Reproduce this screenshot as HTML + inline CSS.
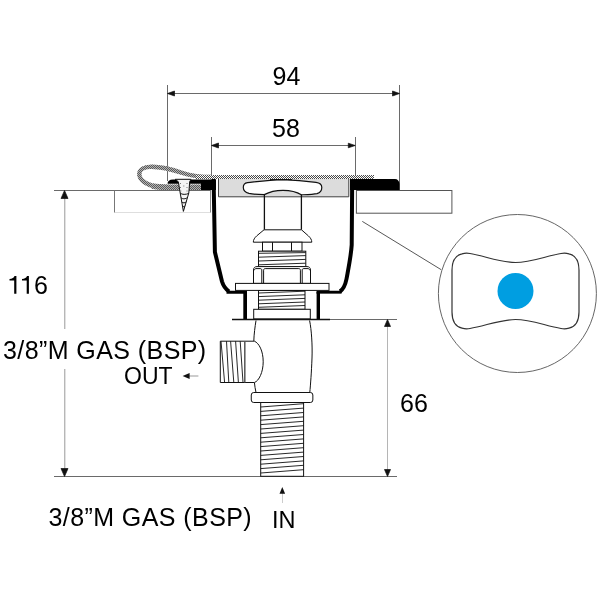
<!DOCTYPE html>
<html><head><meta charset="utf-8">
<style>
html,body{margin:0;padding:0;background:#fff;width:600px;height:600px;overflow:hidden}
svg{display:block;will-change:transform}
text{font-family:"Liberation Sans",sans-serif;fill:#000}
</style></head>
<body>
<svg width="600" height="600" viewBox="0 0 600 600">
<defs>
<pattern id="dots" width="2" height="2" patternUnits="userSpaceOnUse">
<rect width="2" height="2" fill="#fff"/><rect width="1" height="1" fill="#4a4a4a"/><rect x="1" y="1" width="1" height="1" fill="#4a4a4a"/>
</pattern>
<pattern id="dk" width="2" height="2" patternUnits="userSpaceOnUse"><rect width="1" height="1" fill="#5a5a5a"/><rect x="1" y="1" width="1" height="1" fill="#5a5a5a"/></pattern>
</defs>

<!-- ===== Dimension 94 ===== -->
<g stroke="#6a6a6a" stroke-width="1" fill="none">
<line x1="167.5" y1="85" x2="167.5" y2="181"/>
<line x1="399.5" y1="85" x2="399.5" y2="190"/>
<line x1="168" y1="93.5" x2="399" y2="93.5"/>
<line x1="211.5" y1="137" x2="211.5" y2="176"/>
<line x1="355.5" y1="137" x2="355.5" y2="176"/>
<line x1="212" y1="145.5" x2="355.3" y2="145.5"/>
</g>
<g fill="#111" stroke="#111" stroke-width="0.7" stroke-linejoin="round">
<path d="M167.5,93.5 L174.5,91 L174.5,96 Z"/>
<path d="M399.5,93.5 L392.5,91 L392.5,96 Z"/>
<path d="M211.5,145.5 L218.5,143 L218.5,148 Z"/>
<path d="M355.2,145.5 L348.3,143.2 L348.3,147.8 Z"/>
</g>
<text x="286.4" y="85" font-size="25" text-anchor="middle">94</text>
<text x="286" y="137" font-size="25" text-anchor="middle">58</text>

<!-- ===== Dimension 116 ===== -->
<g stroke="#6a6a6a" stroke-width="1" fill="none">
<line x1="54" y1="190.5" x2="211" y2="190.5"/>
<line x1="54" y1="476.5" x2="397" y2="476.5"/>
<line x1="232" y1="319.5" x2="397" y2="319.5"/>
</g>
<g stroke="#999" stroke-width="1" fill="none">
<line x1="64.8" y1="197" x2="64.8" y2="329"/>
<line x1="64.8" y1="369" x2="64.8" y2="470"/>
<line x1="387.5" y1="326" x2="387.5" y2="470" stroke="#b5b5b5"/>
</g>
<g fill="#111" stroke="#111" stroke-width="0.7" stroke-linejoin="round">
<path d="M64.5,190.5 L61,198.5 L68,198.5 Z"/>
<path d="M64.5,476.5 L61,468.5 L68,468.5 Z"/>
<path d="M387.5,319.5 L384.5,326.5 L390.5,326.5 Z"/>
<path d="M387.5,476.5 L384.5,469.5 L390.5,469.5 Z"/>
</g>
<path d="M16.4,276 L16.4,293.7 L14.2,293.7 L14.2,280.6 L9.5,280.6 L9.5,278.9 C12.2,278.8 14,277.8 14.5,276 Z M28.9,276 L28.9,293.7 L26.7,293.7 L26.7,280.6 L22,280.6 L22,278.9 C24.7,278.8 26.5,277.8 27,276 Z" fill="#000"/>
<text x="34.1" y="293.8" font-size="25">6</text>
<text x="400" y="411.5" font-size="25">66</text>

<!-- labels -->
<text x="3" y="358.8" font-size="25" letter-spacing="0.42">3/8”M GAS (BSP)</text>
<text x="124" y="384" font-size="23">OUT</text>
<g><line x1="188" y1="376" x2="198.4" y2="376" stroke="#aaa" stroke-width="1.2"/>
<path d="M182.6,376.1 L189.6,373.1 L189.6,379.1 Z" fill="#111"/></g>
<text x="48.5" y="525.6" font-size="25" letter-spacing="0.42">3/8”M GAS (BSP)</text>
<text x="272" y="527.7" font-size="23.5">IN</text>
<g><line x1="282.5" y1="493" x2="282.5" y2="503" stroke="#ccc" stroke-width="1"/>
<path d="M282.3,487 L279.5,493.8 L285.1,493.8 Z" fill="#111"/></g>

<!-- ===== Countertops ===== -->
<g fill="none">
<line x1="114.5" y1="190.5" x2="114.5" y2="212.5" stroke="#777"/>
<line x1="115" y1="212.5" x2="210.5" y2="212.5" stroke="#dedede"/>
<line x1="210.5" y1="190.5" x2="210.5" y2="212.5" stroke="#888"/>
<rect x="356.4" y="190.5" width="95.5" height="22.7" stroke="#555"/>
</g>
<line x1="362.3" y1="221.4" x2="441.2" y2="269.7" stroke="#444" stroke-width="0.9"/>

<!-- ===== Magnified circle ===== -->
<circle cx="517.4" cy="293.5" r="79" fill="none" stroke="#555" stroke-width="0.9"/>
<path d="M452,270 C452,262 455,255.5 462,253.8 C465,253 467,253 470,253.5 C485,256 500,262.5 515.5,262.5 C531,262.5 546,256 561,253.5 C564,253 566,253 569,253.8 C576,255.5 579,262 579,270 L579,312 C579,320 576,326.5 569,328.2 C566,329 564,329 561,328.5 C546,326 531,319.5 515.5,319.5 C500,319.5 485,326 470,328.5 C467,329 465,329 462,328.2 C455,326.5 452,320 452,312 Z" fill="none" stroke="#333" stroke-width="1.2"/>
<circle cx="515.5" cy="291" r="18" fill="#009ee1"/>

<!-- ===== Loop / hose ===== -->
<path id="loopP" d="M202,187.2 L168,187.5 C155,187.5 146.5,185 141.8,180 C137.2,174.5 138.5,167.3 150,166.8 C160,166.4 170,168.8 182.5,173 C190,175.5 197,177 212,177" fill="none" stroke="#b4b4b4" stroke-width="4.3"/>
<path d="M202,187.2 L168,187.5 C155,187.5 146.5,185 141.8,180 C137.2,174.5 138.5,167.3 150,166.8 C160,166.4 170,168.8 182.5,173 C190,175.5 197,177 212,177" fill="none" stroke="url(#dk)" stroke-width="4.3"/>
<path d="M152,186 C157,187 161,187.2 168,187.2 L202,187.2" fill="none" stroke="#b4b4b4" stroke-width="5.6"/>
<path d="M152,186 C157,187 161,187.2 168,187.2 L202,187.2" fill="none" stroke="url(#dk)" stroke-width="5.6"/>
<!-- hatched top strip -->
<rect x="196" y="175" width="178" height="4" fill="url(#dots)"/>

<!-- black flange left -->
<path d="M167.5,184 C167.5,181 169.5,179.5 173,179.5 L216,179.5 L216,190 L201,190 L201,183.7 L167.5,183.7 Z" fill="#000"/>
<!-- black flange right -->
<path d="M350,179 L395,179 C397.5,179 399.5,181 399.5,184 L399.5,190 L350,190 Z" fill="#000"/>

<!-- screw -->
<path d="M175.2,179.3 L191,179.3 L189.7,181.7 L188.8,193 L183.4,211.4 L180.2,193 L178.3,181.7 Z" fill="#f4f4f4" stroke="#111" stroke-width="1" stroke-linejoin="round"/>
<g fill="#777"><rect x="180" y="183" width="1" height="1"/><rect x="186.5" y="183" width="1" height="1"/><rect x="180" y="187" width="1" height="1"/><rect x="186.5" y="187" width="1" height="1"/><rect x="183.3" y="185.5" width="1" height="1"/><rect x="180.3" y="190.5" width="1" height="1"/><rect x="186.5" y="190.5" width="1" height="1"/></g>
<g stroke="#111" stroke-width="1" fill="none">
<path d="M180.2,193 C182,195 186,194.5 188.8,193.5"/><path d="M180.9,197.5 C182.5,199.5 185.5,199 187.6,197.5"/><path d="M181.7,201.8 C183,203.5 185,203 186.4,201.8"/><path d="M182.4,205.8 C183.2,207 184.4,206.8 185.2,205.8"/>
</g>

<!-- gray cap -->
<rect x="218" y="179" width="131" height="18" fill="#dcdcdc"/>
<path d="M218.5,179 L218.5,196.8 L348.8,196.8 L348.8,179" fill="none" stroke="#444" stroke-width="1"/>

<!-- bowl walls (thick black) -->
<path d="M213.6,179 L214.9,252 L222,281.5 C223,285 225,288.5 229,291.5" fill="none" stroke="#000" stroke-width="4" stroke-linejoin="round"/>
<path d="M226.5,292.2 L247,292.2 M245.2,292 L245.2,319.5" fill="none" stroke="#000" stroke-width="2.9"/>
<path d="M245.2,292 L245.2,319.5" fill="none" stroke="#000" stroke-width="3.6"/>
<path d="M352.2,179 L351.7,245 C351,256 348.5,268 346.5,279 C345.5,284 343.5,289 340,291.5" fill="none" stroke="#000" stroke-width="4" stroke-linejoin="round"/>
<path d="M341.5,292.2 L316.5,292.2" fill="none" stroke="#000" stroke-width="2.9"/>
<path d="M318.3,292 L318.3,319.5" fill="none" stroke="#000" stroke-width="3.4"/>

<!-- handle -->
<path d="M243.3,187.5 C243.3,184.5 244.3,183 247.5,182.6 C256,181.8 268,180.3 283,179.6 C298,180.3 309,181.5 316,182.3 C320,182.8 321.8,184.5 321.8,187.5 C321.8,190.5 320.5,192.5 317,193.6 C313,194.4 306,194.6 301.3,194.8 C297,192 290,190.3 283,190.3 C276,190.3 269,192 264.3,194.6 C259,194.6 253,194.4 249,193.4 C245.5,192.4 243.3,190.5 243.3,187.5 Z" fill="#fff" stroke="#111" stroke-width="1.2"/>
<line x1="270" y1="179.6" x2="292" y2="179.6" stroke="#111" stroke-width="1"/>
<g fill="#fff" stroke="#111" stroke-width="1">
<!-- stem -->
<path d="M264.4,194.5 L264.4,229.8 M301.4,194.7 L301.4,229.8" fill="none" stroke-width="1.3"/>
<!-- bell -->
<path d="M264,229.8 L301.5,229.8 L308.3,235.8 C310.5,237.8 311.8,239.8 311.8,242.2 L253.3,242.2 C253.3,239.8 254.6,237.8 256.8,235.8 Z"/>
<!-- small hex nut -->
<rect x="262.5" y="242.2" width="39.5" height="9"/>
<path d="M272.5,242.2 V251.2 M291.5,242.2 V251.2" fill="none"/>
<!-- upper thread -->
<rect x="258.5" y="251.2" width="47.3" height="15.4"/>
<!-- large hex nut -->
<path d="M253.5,283.4 L253.5,270 C253.5,267.8 254.8,266.6 257,266.6 L307,266.6 C309.2,266.6 310.5,267.8 310.5,270 L310.5,283.4 Z"/>
<path d="M261.8,283.4 L261.8,270 C261.8,269 261.2,268.6 260,268.6 L256,268.6 C255,268.6 254.5,269.2 254.5,270.2 M263.6,283.4 L263.6,270.2 C263.6,269.2 264.2,268.6 265.2,268.6 L298.8,268.6 C299.8,268.6 300.4,269.2 300.4,270.2 L300.4,283.4 M302.2,283.4 L302.2,270 C302.2,269 302.8,268.6 304,268.6 L308,268.6 C309,268.6 309.5,269.2 309.5,270.2" fill="none" stroke-width="1"/>
<!-- washer -->
<rect x="235.5" y="283.4" width="93.5" height="7"/>
<!-- lower thread -->
<rect x="258.5" y="290.5" width="46.5" height="18.8"/>
<!-- lower box -->
<rect x="253.7" y="309.3" width="56.6" height="9.6"/>
</g>
<!-- threads in upper and lower -->
<g stroke="#111" stroke-width="0.9" fill="none">
<path d="M258.7,253.3 L305.7,252.6 M258.7,257.2 L305.7,255.6 M258.7,261 L305.7,259.4 M258.7,264.8 L305.7,263.2"/>
<path d="M258.5,293 L305,291.2 M258.5,296.6 L305,294.8 M258.5,300.2 L305,298.4 M258.5,303.8 L305,302 M258.5,307.3 L305,305.5"/>
</g>
<line x1="232" y1="319.5" x2="330" y2="319.5" stroke="#111" stroke-width="1.5"/>

<!-- valve body -->
<path d="M256,320.5 C255,327 254,334 253.8,341.2 M254.4,382.5 C254.5,386 255.5,389 256,392.5 M309.6,320.5 C311.5,330 312.5,345 312,358 C311.5,372 310.5,385 309.8,392.5" fill="none" stroke="#111" stroke-width="1"/>
<!-- outlet -->
<path d="M254.4,341.2 L220.3,341.2 L220.3,382.5 L254.4,382.5 C259,381 263.2,372 263.2,361.8 C263.2,351 259,343 254.4,341.2 Z" fill="#fff" stroke="#111" stroke-width="1"/>
<g stroke="#111" stroke-width="0.9" fill="none">
<path d="M221,341.2 L224.6,382.5 M226.5,341.2 L228.8,382.5 M230.6,341.2 L233.8,382.5 M235.6,341.2 L238.4,382.5 M240.2,341.2 L243,382.5"/>
<path d="M244.8,341.2 L244.8,382.5" stroke="#555" stroke-width="1.5"/>
</g>
<!-- ring -->
<rect x="251.25" y="392.5" width="61.6" height="10" rx="2.5" fill="#fff" stroke="#111" stroke-width="1"/>
<!-- inlet -->
<rect x="260.7" y="402.5" width="42.9" height="73.8" fill="#fff" stroke="#111" stroke-width="1"/>
<path d="M260.7,407.0 L303.6,403.7 M260.7,411.4 L303.6,408.1 M260.7,415.8 L303.6,412.5 M260.7,420.2 L303.6,416.9 M260.7,424.6 L303.6,421.3 M260.7,429.0 L303.6,425.7 M260.7,433.4 L303.6,430.1 M260.7,437.8 L303.6,434.5 M260.7,442.2 L303.6,438.9 M260.7,446.6 L303.6,443.3 M260.7,451.0 L303.6,447.7 M260.7,455.4 L303.6,452.1 M260.7,459.8 L303.6,456.5 M260.7,464.2 L303.6,460.9 M260.7,468.6 L303.6,465.3 M260.7,473.0 L303.6,469.7" stroke="#111" stroke-width="0.9" fill="none"/>
</svg>
</body></html>
